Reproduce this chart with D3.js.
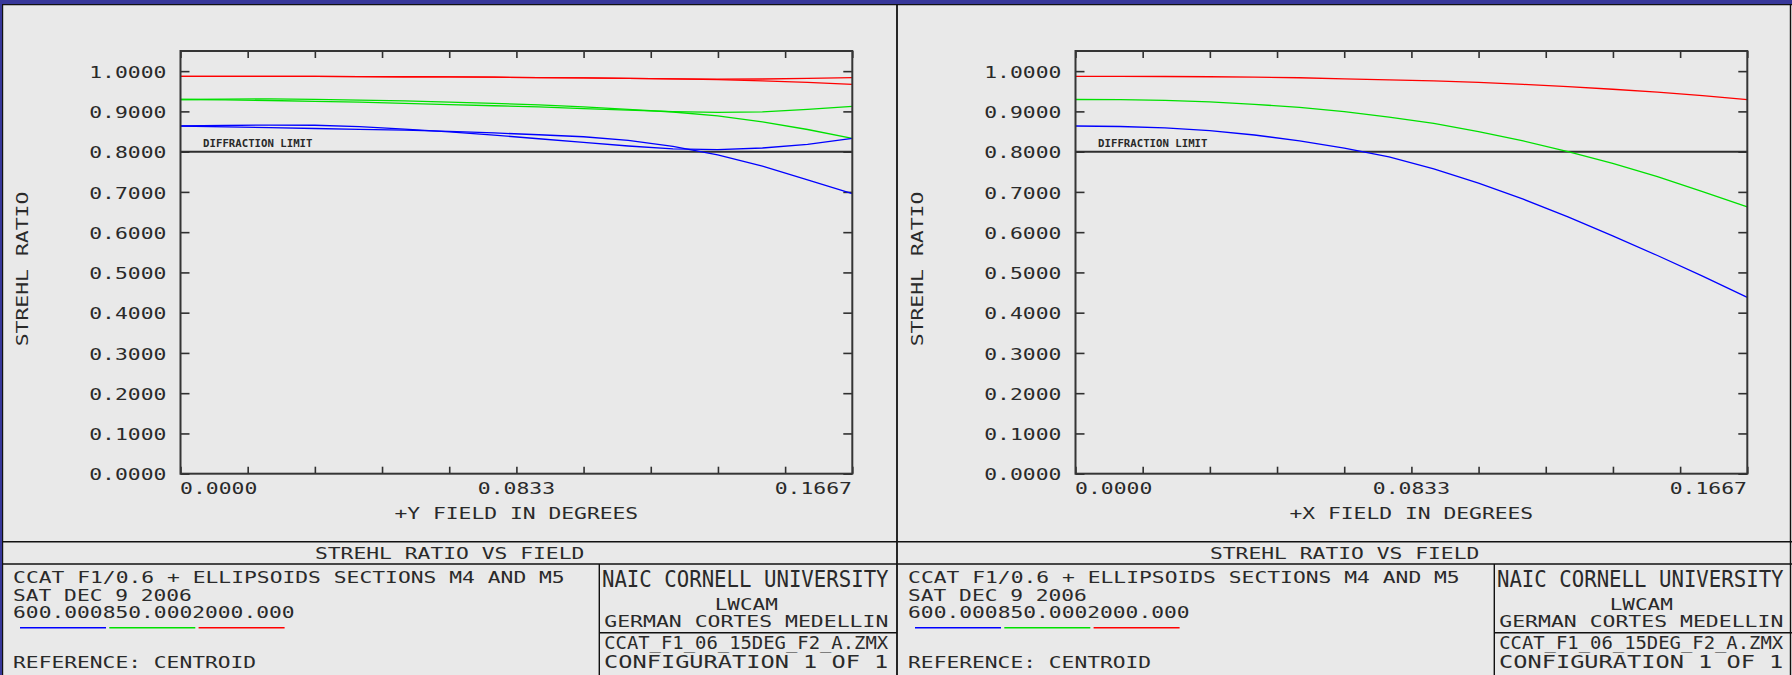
<!DOCTYPE html>
<html>
<head>
<meta charset="utf-8">
<script src="https://cdn.jsdelivr.net/npm/d3@7"></script>
<style>
  html, body { margin: 0; padding: 0; background: #e9e9e9; }
  svg { display: block; }
  text { font-family: "DejaVu Sans Mono", monospace; fill: #2a2a2a; }
</style>
</head>
<body>
<svg id="chart" width="1792" height="675"></svg>
<script>
// ---- field sample points (degrees) ----
const fieldSamples = [0.0000, 0.0111, 0.0222, 0.0333, 0.0444, 0.0556, 0.0667, 0.0778,
                      0.0889, 0.1000, 0.1111, 0.1222, 0.1333, 0.1444, 0.1556, 0.1667];

// ---- Strehl ratio, +Y field (two traces per wavelength) ----
const yBlueA  = [0.8637, 0.8650, 0.8660, 0.8655, 0.8620, 0.8560, 0.8490, 0.8410, 0.8320, 0.8230, 0.8140, 0.8070, 0.8050, 0.8090, 0.8180, 0.8330];
const yBlueB  = [0.8637, 0.8615, 0.8595, 0.8575, 0.8555, 0.8535, 0.8505, 0.8465, 0.8420, 0.8370, 0.8280, 0.8130, 0.7920, 0.7640, 0.7300, 0.6960];
const yGreenA = [0.9295, 0.9285, 0.9270, 0.9250, 0.9230, 0.9200, 0.9170, 0.9140, 0.9110, 0.9070, 0.9030, 0.8995, 0.8975, 0.8990, 0.9050, 0.9125];
const yGreenB = [0.9295, 0.9305, 0.9310, 0.9300, 0.9280, 0.9260, 0.9230, 0.9200, 0.9160, 0.9110, 0.9050, 0.8985, 0.8890, 0.8740, 0.8550, 0.8330];
const yRedA   = [0.9870, 0.9870, 0.9870, 0.9868, 0.9865, 0.9860, 0.9855, 0.9850, 0.9840, 0.9830, 0.9820, 0.9810, 0.9800, 0.9805, 0.9820, 0.9840];
const yRedB   = [0.9870, 0.9870, 0.9870, 0.9868, 0.9865, 0.9860, 0.9855, 0.9850, 0.9840, 0.9830, 0.9820, 0.9810, 0.9790, 0.9760, 0.9720, 0.9670];

// ---- Strehl ratio, +X field ----
const xBlue  = [0.8637, 0.8625, 0.8590, 0.8520, 0.8413, 0.8270, 0.8090, 0.7870, 0.7570, 0.7220, 0.6820, 0.6380, 0.5910, 0.5420, 0.4910, 0.4380];
const xGreen = [0.9295, 0.9290, 0.9275, 0.9235, 0.9175, 0.9100, 0.8995, 0.8860, 0.8700, 0.8500, 0.8265, 0.8000, 0.7710, 0.7380, 0.7005, 0.6630];
const xRed   = [0.9870, 0.9870, 0.9866, 0.9860, 0.9850, 0.9835, 0.9810, 0.9785, 0.9757, 0.9720, 0.9670, 0.9615, 0.9550, 0.9480, 0.9390, 0.9290];

// ---- axes ----
const yTickValues = [0.0, 0.1, 0.2, 0.3, 0.4, 0.5, 0.6, 0.7, 0.8, 0.9, 1.0];
const yTickLabels = ["0.0000", "0.1000", "0.2000", "0.3000", "0.4000", "0.5000",
                     "0.6000", "0.7000", "0.8000", "0.9000", "1.0000"];
const xTickLabels = ["0.0000", "0.0833", "0.1667"];
const fieldMax = 0.1667;
const strehlMax = 1.05;
const diffractionLimit = 0.8;

// ---- text blocks ----
const plotTitle = "STREHL RATIO VS FIELD";
const yAxisTitle = "STREHL RATIO";
const infoLines = ["CCAT F1/0.6 + ELLIPSOIDS SECTIONS M4 AND M5", "SAT DEC 9 2006", "600.000850.0002000.000"];
const referenceText = "REFERENCE: CENTROID";
const wavelengthColors = ["#0000ff", "#00e000", "#ff0000"];
const ownerLines = ["NAIC CORNELL UNIVERSITY", "LWCAM", "GERMAN CORTES MEDELLIN"];
const fileLines = ["CCAT_F1_06_15DEG_F2_A.ZMX", "CONFIGURATION 1 OF 1"];

const svg = d3.select("#chart");
const CAP = 0.729;   // cap height / em for DejaVu Sans Mono

// Text scaled horizontally to sit between a left and right visible extent.
function fitText(g, str, x1, x2, baseline, cap, opts = {}) {
  const fs = cap / CAP;
  const b = 0.09 * fs;
  const t = g.append("text")
    .attr("x", 0)
    .attr("y", 0)
    .attr("font-size", fs)
    .text(str);
  if (opts.weight) t.attr("font-weight", opts.weight);
  const natural = t.node().getComputedTextLength();
  const target = (x2 - x1) + 2 * b;
  const sx = target / natural;
  t.attr("transform", `translate(${x1 - b},${baseline}) scale(${sx},1)`);
  return t;
}
// Text placed by character advance with an anchor.
function advText(g, str, x, baseline, cap, adv, anchor, opts = {}) {
  const w = adv * str.length - (adv * 0.32);
  let x1 = x;
  if (anchor === "middle") x1 = x - w / 2;
  else if (anchor === "end") x1 = x - w;
  return fitText(g, str, x1, x1 + w, baseline, cap, opts);
}

function line(g, x1, y1, x2, y2, stroke, w) {
  g.append("line").attr("x1", x1).attr("y1", y1).attr("x2", x2).attr("y2", y2)
    .attr("stroke", stroke).attr("stroke-width", w);
}

// ---- one plot panel ----
function drawPanel(off, axisName, series) {
  const g = svg.append("g").attr("transform", `translate(${off},0)`);
  const x = d3.scaleLinear().domain([0, fieldMax]).range([180.5, 852.3]);
  const y = d3.scaleLinear().domain([0, strehlMax]).range([473.7, 51]);
  const [x0, x1] = x.range();
  const [yb, yt] = y.range();

  // minor x ticks: ten divisions of the field range
  const xTickValues = d3.range(0, 11).map(i => x.invert(x0 + (x1 - x0) * i / 10));

  const tickStyle = sel => {
    sel.select(".domain").remove();
    sel.selectAll(".tick line").attr("stroke", "#303030").attr("stroke-width", 1.6);
    sel.selectAll(".tick text").remove();
  };
  g.append("g").attr("transform", `translate(0,${yt})`)
    .call(d3.axisBottom(x).tickValues(xTickValues).tickSize(7).tickSizeOuter(0)).call(tickStyle);
  g.append("g").attr("transform", `translate(0,${yb})`)
    .call(d3.axisTop(x).tickValues(xTickValues).tickSize(7).tickSizeOuter(0)).call(tickStyle);
  g.append("g").attr("transform", `translate(${x0},0)`)
    .call(d3.axisRight(y).tickValues(yTickValues).tickSize(9).tickSizeOuter(0)).call(tickStyle);
  g.append("g").attr("transform", `translate(${x1},0)`)
    .call(d3.axisLeft(y).tickValues(yTickValues).tickSize(9).tickSizeOuter(0)).call(tickStyle);

  // diffraction limit
  line(g, x0, y(diffractionLimit), x1, y(diffractionLimit), "#2e2e2e", 2);
  fitText(g, "DIFFRACTION LIMIT", x0 + 23.5, x0 + 131, y(diffractionLimit) - 4.6, 7.2, { weight: "bold" });

  // curves
  const path = d3.line().x((d, i) => x(fieldSamples[i])).y(d => y(d));
  series.forEach(s => {
    g.append("path").datum(s.values)
      .attr("fill", "none").attr("stroke", s.color).attr("stroke-width", 1.3)
      .attr("d", path);
  });

  // frame
  g.append("rect").attr("x", x0).attr("y", yt).attr("width", x1 - x0).attr("height", yb - yt)
    .attr("fill", "none").attr("stroke", "#353535").attr("stroke-width", 2);

  // y labels
  yTickValues.forEach((v, i) => {
    advText(g, yTickLabels[i], 165, y(v) + 6.6, 11.6, 13.1, "end");
  });
  // x labels
  advText(g, xTickLabels[0], 181.5, 494, 11.6, 13.1, "start");
  advText(g, xTickLabels[1], x(fieldMax / 2), 494, 11.6, 13.1, "middle");
  advText(g, xTickLabels[2], 850.5, 494, 11.6, 13.1, "end");

  // axis titles
  advText(g, axisName, x(fieldMax / 2), 518.5, 11.6, 12.9, "middle");
  const yl = g.append("g").attr("transform", "translate(27.5,269) rotate(-90)");
  advText(yl, yAxisTitle, 0, 0, 11.6, 13.0, "middle");

  // ---- title block ----
  const left = 2.5, right = 897;
  line(g, left, 541.7, right, 541.7, "#111", 1.4);
  line(g, left, 564, right, 564, "#111", 1.4);
  line(g, 599.3, 564, 599.3, 675, "#111", 1.4);
  line(g, 599.3, 632.7, right, 632.7, "#111", 1.4);

  advText(g, plotTitle, (left + right) / 2, 558.6, 11.6, 12.9, "middle");
  advText(g, infoLines[0], 14.5, 583.4, 11.7, 12.85, "start");
  advText(g, infoLines[1], 14.5, 601.4, 11.7, 12.85, "start");
  advText(g, infoLines[2], 14.5, 617.6, 11.7, 12.85, "start");
  wavelengthColors.forEach((c, i) => {
    line(g, 20 + i * 89.3, 627.7, 106 + i * 89.3, 627.7, c, 1.4);
  });
  advText(g, referenceText, 14.5, 668.2, 11.7, 12.85, "start");

  fitText(g, ownerLines[0], 604, 886.7, 586.6, 16.6);
  advText(g, ownerLines[1], 746.3, 610.2, 11.2, 12.9, "middle");
  fitText(g, ownerLines[2], 605.7, 886.7, 626.6, 11.7);
  fitText(g, fileLines[0], 605.7, 886.7, 649, 12.3);
  fitText(g, fileLines[1], 605.7, 886.7, 668.4, 13.3);
}

drawPanel(0, "+Y FIELD IN DEGREES", [
  { color: wavelengthColors[2], values: yRedA },
  { color: wavelengthColors[2], values: yRedB },
  { color: wavelengthColors[1], values: yGreenA },
  { color: wavelengthColors[1], values: yGreenB },
  { color: wavelengthColors[0], values: yBlueA },
  { color: wavelengthColors[0], values: yBlueB }
]);
drawPanel(895, "+X FIELD IN DEGREES", [
  { color: wavelengthColors[2], values: xRed },
  { color: wavelengthColors[1], values: xGreen },
  { color: wavelengthColors[0], values: xBlue }
]);

// ---- window frame ----
const frame = svg.append("g");
frame.append("rect").attr("x", 0).attr("y", 0).attr("width", 1792).attr("height", 4).attr("fill", "#38389a");
frame.append("rect").attr("x", 0).attr("y", 0).attr("width", 2).attr("height", 675).attr("fill", "#38389a");
line(frame, 2, 4.6, 1792, 4.6, "#111", 1.2);
line(frame, 2.6, 4, 2.6, 675, "#111", 1.2);
line(frame, 897, 4, 897, 675, "#111", 1.8);
line(frame, 1790.5, 4, 1790.5, 675, "#111", 1.4);
</script>
</body>
</html>
